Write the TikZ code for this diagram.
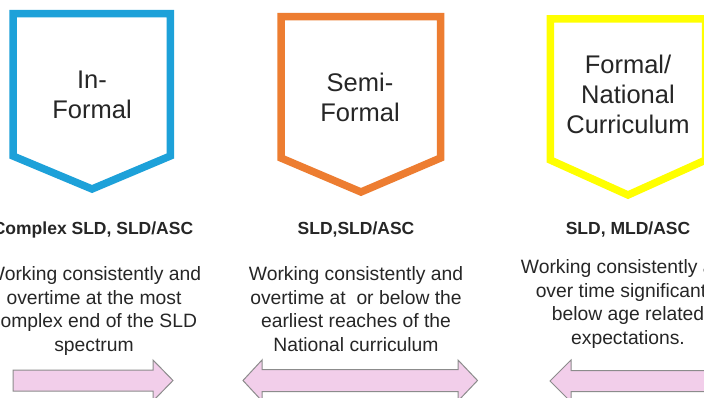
\documentclass[tikz,border=0pt]{standalone}
\usepackage{fontspec}
\setmainfont{Liberation Sans}
\definecolor{cblue}{RGB}{29,161,217}
\definecolor{corange}{RGB}{237,125,49}
\definecolor{cyellow}{RGB}{255,255,0}
\definecolor{cpink}{RGB}{242,206,234}
\definecolor{cgrayline}{RGB}{140,140,140}
\definecolor{ctext}{RGB}{38,38,38}
\begin{document}
\begin{tikzpicture}[x=1pt,y=-1pt,
  badge/.style={line width=7.5pt, line join=miter, miter limit=10, fill=white},
  headtext/.style={text=ctext, align=center, inner sep=0pt, anchor=base, font=\fontsize{25.5}{30}\selectfont},
  leveltext/.style={text=ctext, inner sep=0pt, anchor=base, font=\bfseries\fontsize{17.5}{21}\selectfont},
  desctext/.style={text=ctext, align=center, inner sep=0pt, anchor=base, font=\fontsize{19.3}{23.5}\selectfont},
  fatarrow/.style={fill=cpink, draw=cgrayline, line width=1pt, line join=miter}]
\useasboundingbox (0,0) rectangle (704,398);
\clip (0,0) rectangle (704,398);
\fill[white] (0,0) rectangle (704,398);
% badges
\draw[badge, draw=cblue] (13,13.7) -- (170.3,13.7) -- (170.3,156) -- (92,189) -- (13,156) -- cycle;
\draw[badge, draw=corange] (281,16.7) -- (440.5,16.7) -- (440.5,158) -- (361,192) -- (281,158) -- cycle;
\draw[badge, draw=cyellow] (550.3,18.8) -- (705.7,18.8) -- (705.7,160) -- (628,195) -- (550.3,160) -- cycle;
% badge titles (anchor = baseline of last line)
\node[headtext] (h1) at (92,119) {In-\\Formal};
\node[headtext] (h2) at (360,122) {Semi-\\Formal};
\node[headtext] (h3) at (628,134) {Formal/\\National\\Curriculum};
% levels
\node[leveltext] (l1) at (93,235) {Complex SLD, SLD/ASC};
\node[leveltext] (l2) at (356,235) {SLD,SLD/ASC};
\node[leveltext] (l3) at (628,235) {SLD, MLD/ASC};
% descriptions
\node[desctext] (d1) at (94,351) {Working consistently and\\overtime at the most\\complex end of the SLD\\spectrum};
\node[desctext] (d2) at (356,351) {Working consistently and\\overtime at\ \ or below the\\earliest reaches of the\\National curriculum};
\node[desctext] (d3) at (628,344) {Working consistently and\\over time significantly\\below age related\\expectations.};
% arrows
\draw[fatarrow] (13,370) -- (153,370) -- (153,360) -- (173,380.5) -- (153,401) -- (153,391) -- (13,391) -- cycle;
\draw[fatarrow] (262,369.5) -- (458,369.5) -- (458,360) -- (477.5,380.5) -- (458,401) -- (458,391.5) -- (262,391.5) -- (262,401) -- (243,380.5) -- (262,360) -- cycle;
\draw[fatarrow] (571,370.5) -- (720,370.5) -- (720,391.5) -- (571,391.5) -- (571,402) -- (550,381) -- (571,360) -- cycle;
\end{tikzpicture}
\end{document}
